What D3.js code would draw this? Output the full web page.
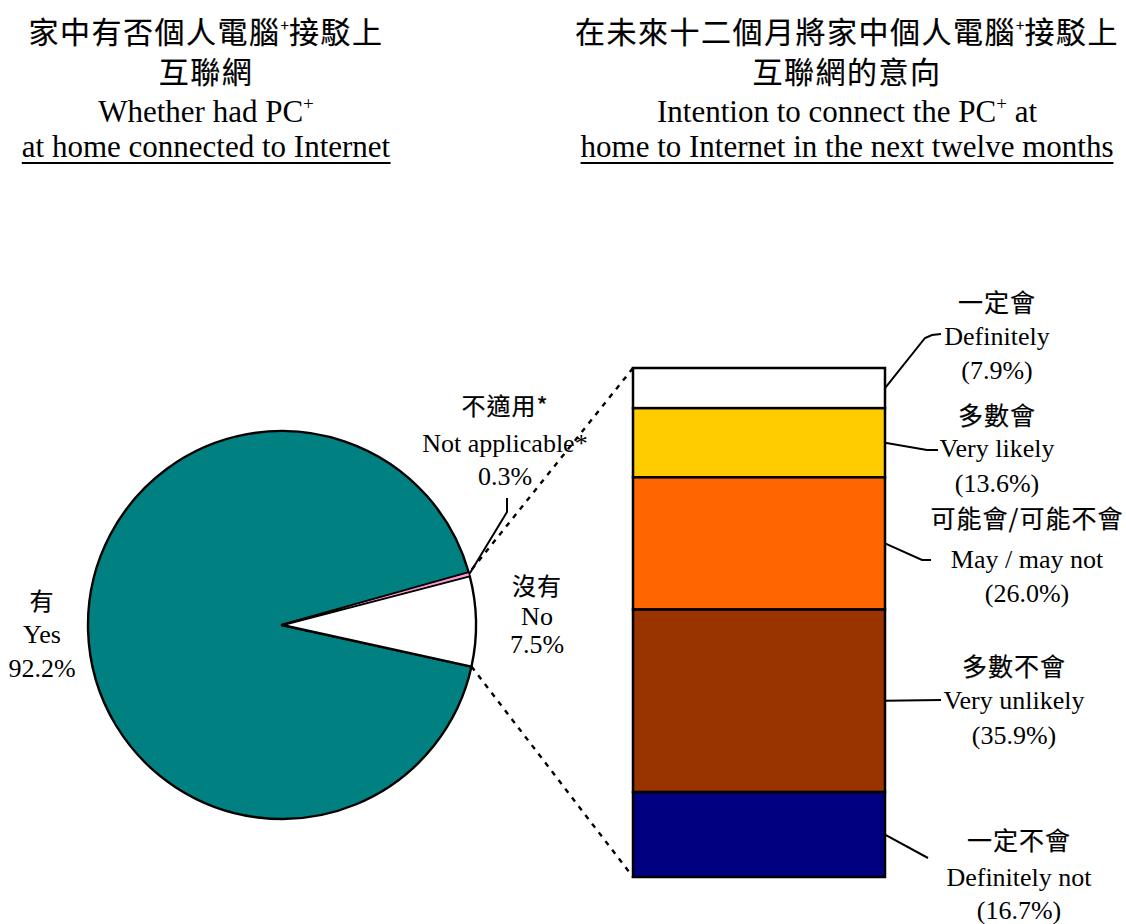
<!DOCTYPE html>
<html><head><meta charset="utf-8">
<script src="https://cdn.jsdelivr.net/npm/d3@7/dist/d3.min.js"></script>
<style>body{margin:0;background:#fff}</style>
</head><body>
<svg id="c" width="1126" height="924" xmlns="http://www.w3.org/2000/svg"></svg>
<script>
// ---- data ----
const pieCats = ["不適用*", "沒有", "有"];
const pieCatsEn = ["Not applicable*", "No", "Yes"];
const pieValues = [0.3, 7.5, 92.2];
const barCats = ["一定會", "多數會", "可能會/可能不會", "多數不會", "一定不會"];
const barCatsEn = ["Definitely", "Very likely", "May / may not", "Very unlikely", "Definitely not"];
const barValues = [7.9, 13.6, 26.0, 35.9, 16.7];

// ---- styles / layout ----
const pieColors = ["#FF99CC", "#FFFFFF", "#008080"];
const barColors = ["#FFFFFF", "#FFCC00", "#FF6600", "#993300", "#000080"];
const CJK = "'Noto Sans CJK TC','Noto Sans CJK SC',sans-serif";
const SERIF = "'Liberation Serif','Times New Roman',serif";

const svg = d3.select("#c");

// Titles
function title(cx, cjk1, cjk2, en1, en2) {
  const g = svg.append("g");
  const addCJK = (txt, y) => {
    const t = g.append("text").attr("x", cx).attr("y", y).attr("text-anchor", "middle")
      .style("font-family", CJK).style("font-size", "30px").style("letter-spacing", "1.5px")
      .attr("stroke", "#000").attr("stroke-width", 0.2);
    const parts = txt.split("+");
    if (parts.length > 1) {
      t.append("tspan").text(parts[0]);
      t.append("tspan").attr("dy", -12).style("font-size", "15px").style("letter-spacing", "0px").text("+");
      t.append("tspan").attr("dy", 12).text(parts[1]);
    } else t.text(txt);
  };
  addCJK(cjk1, 43);
  addCJK(cjk2, 83);
  const addEN = (txt, y, underline) => {
    const t = g.append("text").attr("x", cx).attr("y", y).attr("text-anchor", "middle")
      .style("font-family", SERIF).style("font-size", "31px");
    const parts = txt.split("+");
    if (parts.length > 1) {
      t.append("tspan").text(parts[0]);
      t.append("tspan").attr("dy", -12).style("font-size", "19px").text("+");
      t.append("tspan").attr("dy", 12).text(parts[1]);
    } else t.text(txt);
    if (underline) {
      const b = t.node().getBBox();
      g.append("line").attr("x1", b.x).attr("x2", b.x + b.width).attr("y1", y + 6).attr("y2", y + 6)
        .attr("stroke", "#000").attr("stroke-width", 2);
    }
  };
  addEN(en1, 122, false);
  addEN(en2, 157, true);
}
title(206, "家中有否個人電腦+接駁上", "互聯網", "Whether had PC+", "at home connected to Internet");
title(847, "在未來十二個月將家中個人電腦+接駁上", "互聯網的意向", "Intention to connect the PC+ at", "home to Internet in the next twelve months");

// ---- Pie ----
const cx = 282, cy = 625, R = 194;
const start = 74.3 * Math.PI / 180;
const pie = d3.pie().sort(null).value(d => d).startAngle(start).endAngle(start + 2 * Math.PI);
const arcs = pie(pieValues);
const arc = d3.arc().innerRadius(0).outerRadius(R);
const pg = svg.append("g").attr("transform", `translate(${cx},${cy})`);
// draw larger slices first, tiny slice last so it stays visible
const order = [2, 1, 0];
pg.selectAll("path").data(order.map(i => ({a: arcs[i], i}))).join("path")
  .attr("d", d => arc(d.a)).attr("fill", d => pieColors[d.i])
  .attr("stroke", "#000").attr("stroke-width", d => d.i === 0 ? 1.2 : 2.4).attr("stroke-linejoin", "round");

const polar = (a, r) => [cx + r * Math.sin(a), cy - r * Math.cos(a)];

// Bar
const barX = d3.scaleBand().domain(["bar"]).range([633, 885]).padding(0);
const barY = d3.scaleLinear().domain([0, d3.sum(barValues)]).range([368, 877]);
const cum = [0, ...d3.cumsum(barValues)];

// dashed connectors
const pTop = polar(arcs[0].startAngle, R);
const pBot = polar(arcs[1].endAngle, R);
svg.append("line").attr("x1", pTop[0] + 3).attr("y1", pTop[1] - 3).attr("x2", barX("bar")).attr("y2", barY(0))
  .attr("stroke", "#000").attr("stroke-width", 2.4).attr("stroke-dasharray", "5,6");
svg.append("line").attr("x1", pBot[0]).attr("y1", pBot[1]).attr("x2", barX("bar")).attr("y2", barY(cum[cum.length - 1]))
  .attr("stroke", "#000").attr("stroke-width", 2.4).attr("stroke-dasharray", "5,6");

svg.append("g").selectAll("rect").data(barValues).join("rect")
  .attr("x", barX("bar")).attr("width", barX.bandwidth())
  .attr("y", (d, i) => barY(cum[i])).attr("height", (d, i) => barY(cum[i + 1]) - barY(cum[i]))
  .attr("fill", (d, i) => barColors[i]).attr("stroke", "#000").attr("stroke-width", 2.5);

// pie labels
const pieLabelPos = [
  {x: 505, y: [415, 452, 485]},
  {x: 537, y: [595, 625, 653]},
  {x: 42, y: [610, 643, 677]}
];
pieValues.forEach((v, i) => {
  const p = pieLabelPos[i];
  const g = svg.append("g");
  g.append("text").attr("x", p.x).attr("y", p.y[0]).attr("text-anchor", "middle")
    .style("font-family", CJK).style("font-size", "24px").style("letter-spacing", "1px")
    .attr("stroke", "#000").attr("stroke-width", 0.2).text(pieCats[i]);
  g.append("text").attr("x", p.x).attr("y", p.y[1]).attr("text-anchor", "middle")
    .style("font-family", SERIF).style("font-size", "26px").text(pieCatsEn[i]);
  g.append("text").attr("x", p.x).attr("y", p.y[2]).attr("text-anchor", "middle")
    .style("font-family", SERIF).style("font-size", "26px").text(d3.format(".1f")(v) + "%");
});
// leader for Not applicable
{
  const a = (arcs[0].startAngle + arcs[0].endAngle) / 2;
  const p = polar(a, R);
  svg.append("path").attr("d", d3.line()([p, [507, 512], [507, 498]]))
    .attr("fill", "none").attr("stroke", "#000").attr("stroke-width", 2);
}

// bar labels
const barLabelPos = [
  {x: 997, y: [312, 345, 379], lead: [[925, 338], [932, 335], [941, 334]]},
  {x: 997, y: [425, 457, 492], lead: [[927, 450], [938, 450]]},
  {x: 1027, y: [528, 568, 602], lead: [[922, 560], [931, 560]]},
  {x: 1014, y: [676, 709, 744], lead: [[941, 700]]},
  {x: 1019, y: [850, 886, 919], lead: [[928, 858]]}
];
barValues.forEach((v, i) => {
  const p = barLabelPos[i];
  const g = svg.append("g");
  const my = barY((cum[i] + cum[i + 1]) / 2);
  g.append("path").attr("d", d3.line()([[885, my], ...p.lead]))
    .attr("fill", "none").attr("stroke", "#000").attr("stroke-width", 2);
  g.append("text").attr("x", p.x).attr("y", p.y[0]).attr("text-anchor", "middle")
    .style("font-family", CJK).style("font-size", "25px").style("letter-spacing", "1px")
    .attr("stroke", "#000").attr("stroke-width", 0.2).text(barCats[i]);
  g.append("text").attr("x", p.x).attr("y", p.y[1]).attr("text-anchor", "middle")
    .style("font-family", SERIF).style("font-size", "26px").text(barCatsEn[i]);
  g.append("text").attr("x", p.x).attr("y", p.y[2]).attr("text-anchor", "middle")
    .style("font-family", SERIF).style("font-size", "26px").text("(" + d3.format(".1f")(v) + "%)");
});
</script>
</body></html>
